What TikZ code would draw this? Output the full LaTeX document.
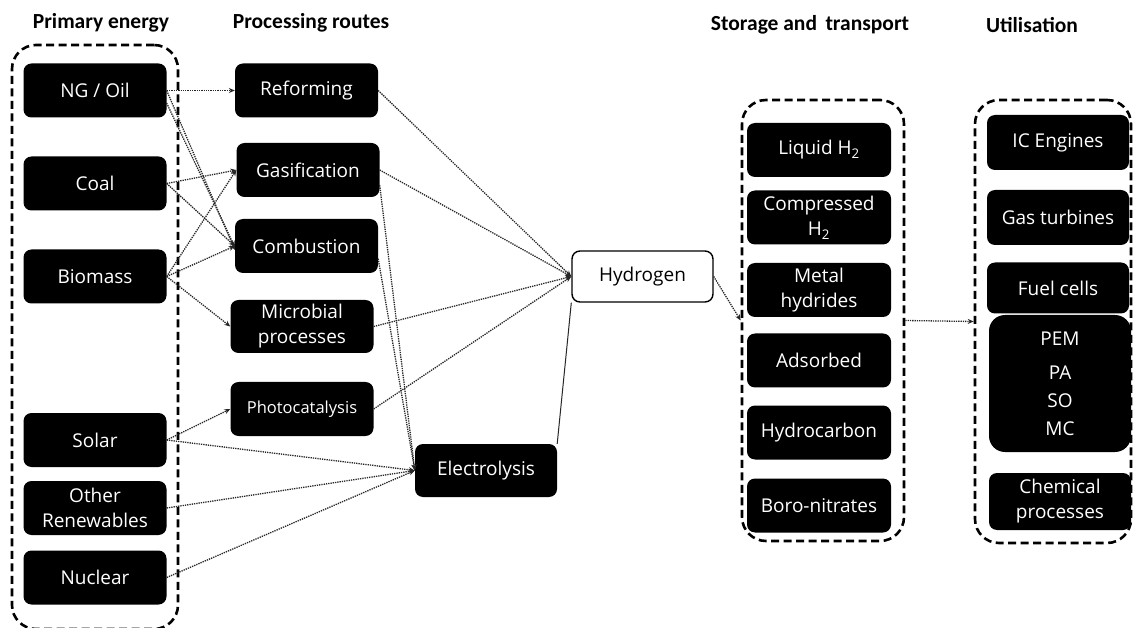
\documentclass[tikz,border=0pt]{standalone}
\usepackage{fontspec}
\setmainfont{Open Sans}
\newfontfamily\headfont{Carlito}
\usetikzlibrary{arrows.meta}

\tikzset{
  srcbox/.style={fill=black, text=white, rounded corners=8pt, inner sep=1pt,
    minimum width=143pt, minimum height=54pt, align=center,
    font=\fontsize{19}{25}\selectfont},
  hbox/.style={draw=black, line width=1.4pt, fill=white, rounded corners=8pt,
    minimum width=141pt, minimum height=51pt, font=\fontsize{19}{25}\selectfont},
  groupbox/.style={draw=black, line width=2.6pt, dash pattern=on 8pt off 4.5pt,
    rounded corners=24pt},
  heading/.style={font=\headfont\bfseries\fontsize{21.5}{24}\selectfont},
  link/.style={densely dotted, line width=1.3pt, draw=black!85,
    -{Stealth[length=6pt,width=5pt]}},
}

\begin{document}
\begin{tikzpicture}[x=1pt, y=-1pt]

  \useasboundingbox (0,0) rectangle (1133,628);

  % -------------------------------------------------------
  % Column headings
  % -------------------------------------------------------
  \node[heading] (hprim)  at (101, 23) {Primary energy};
  \node[heading] (hproc)  at (311, 23) {Processing routes};
  \node[heading] (hstore) at (810, 25) {Storage and\, transport};
  \node[heading] (hutil)  at (1032, 25) {Utilisation};

  % -------------------------------------------------------
  % Dashed groups
  % -------------------------------------------------------
  \node[groupbox, minimum width=166pt, minimum height=584pt] (primgrp)  at (95, 337) {};
  \node[groupbox, minimum width=162pt, minimum height=441pt] (storegrp) at (823, 320.5) {};
  \node[groupbox, minimum width=156pt, minimum height=443pt] (utilgrp)  at (1053, 321.5) {};

  % Primary energy
  \node[srcbox] (ngoil)   at (95, 90.5)  {NG / Oil};
  \node[srcbox] (coal)    at (95, 183.5) {Coal};
  \node[srcbox] (biomass) at (95, 276.5) {Biomass};
  \node[srcbox] (solar)   at (95, 440)   {Solar};
  \node[srcbox] (other)   at (95, 508)   {Other\\Renewables};
  \node[srcbox] (nuclear) at (95, 577.5) {Nuclear};

  % Processing routes
  \node[srcbox] (reform)  at (306.5, 90.5) {Reforming};
  \node[srcbox] (gasif)   at (308, 170)    {Gasification};
  \node[srcbox] (combust) at (306.5, 246)  {Combustion};
  \node[srcbox, minimum height=53pt] (microb) at (302, 326.5) {Microbial\\processes};
  \node[srcbox, font=\fontsize{16.5}{20}\selectfont] (photo) at (302, 409) {Photocatalysis};
  \node[srcbox, minimum width=142pt, minimum height=53pt] (electro) at (486, 470.5) {Electrolysis};

  % Hydrogen
  \node[hbox] (hydro) at (642.5, 276.5) {Hydrogen};

  % Storage and transport
  \node[srcbox, minimum width=144pt] (liquid)  at (819, 150)   {Liquid H\textsubscript{2}};
  \node[srcbox, minimum width=144pt] (compr)   at (819, 217.5) {Compressed\\H\textsubscript{2}};
  \node[srcbox, minimum width=144pt] (metal)   at (819, 290)   {Metal\\hydrides};
  \node[srcbox, minimum width=144pt] (adsorb)  at (819, 360.5) {Adsorbed};
  \node[srcbox, minimum width=144pt] (hcarbon) at (819, 432.5) {Hydrocarbon};
  \node[srcbox, minimum width=144pt] (boro)    at (819, 505.5) {Boro-nitrates};

  % Utilisation
  \node[srcbox, minimum width=142pt, minimum height=55pt] (iceng) at (1058, 142.5) {IC Engines};
  \node[srcbox, minimum width=142pt, minimum height=55pt] (gasturb) at (1058, 217.5) {Gas turbines};
  \node[srcbox, minimum width=142pt, minimum height=51pt] (fuelc) at (1058, 288) {Fuel cells};
  \node[srcbox, minimum width=142pt, minimum height=137pt, rounded corners=16pt,
    font=\fontsize{19}{28}\selectfont]
    (fctypes) at (1060, 383.5) {PEM\\[6pt]PA\\SO\\MC};
  \node[srcbox, minimum width=142pt, minimum height=57pt] (chemp) at (1060, 501.5) {Chemical\\processes};

  % -------------------------------------------------------
  % Connectors
  % -------------------------------------------------------
  \draw[link] (ngoil.east) -- (reform.west);
  \draw[link] (ngoil.east) -- ([yshift=-4pt]combust.west);
  \draw[link] (ngoil.-10) -- ([yshift=-1pt]combust.west);
  \draw[link] (coal.east) -- (gasif.west);
  \draw[link] (coal.east) -- (combust.west);
  \draw[link] (biomass.east) -- (gasif.west);
  \draw[link] (biomass.east) -- (combust.west);
  \draw[link] (biomass.east) -- (microb.west);
  \draw[link] (solar.east) -- (photo.west);
  \draw[link] (solar.east) -- (electro.west);
  \draw[link] (other.east) -- (electro.west);
  \draw[link] (nuclear.east) -- (electro.west);

  \draw[link] (reform.east) -- (hydro.west);
  \draw[link] (gasif.east) -- (hydro.west);
  \draw[link] (microb.east) -- (hydro.west);
  \draw[link] (photo.east) -- (hydro.west);
  \draw[link] (gasif.-12) -- (electro.west);
  \draw[link] (combust.-10) -- (electro.west);
  \draw[line width=1pt, black!85] (electro.north east) -- (hydro.south west);

  \draw[link] (hydro.east) -- (storegrp.west);
  \draw[link] (storegrp.east) -- (utilgrp.west);

\end{tikzpicture}
\end{document}
